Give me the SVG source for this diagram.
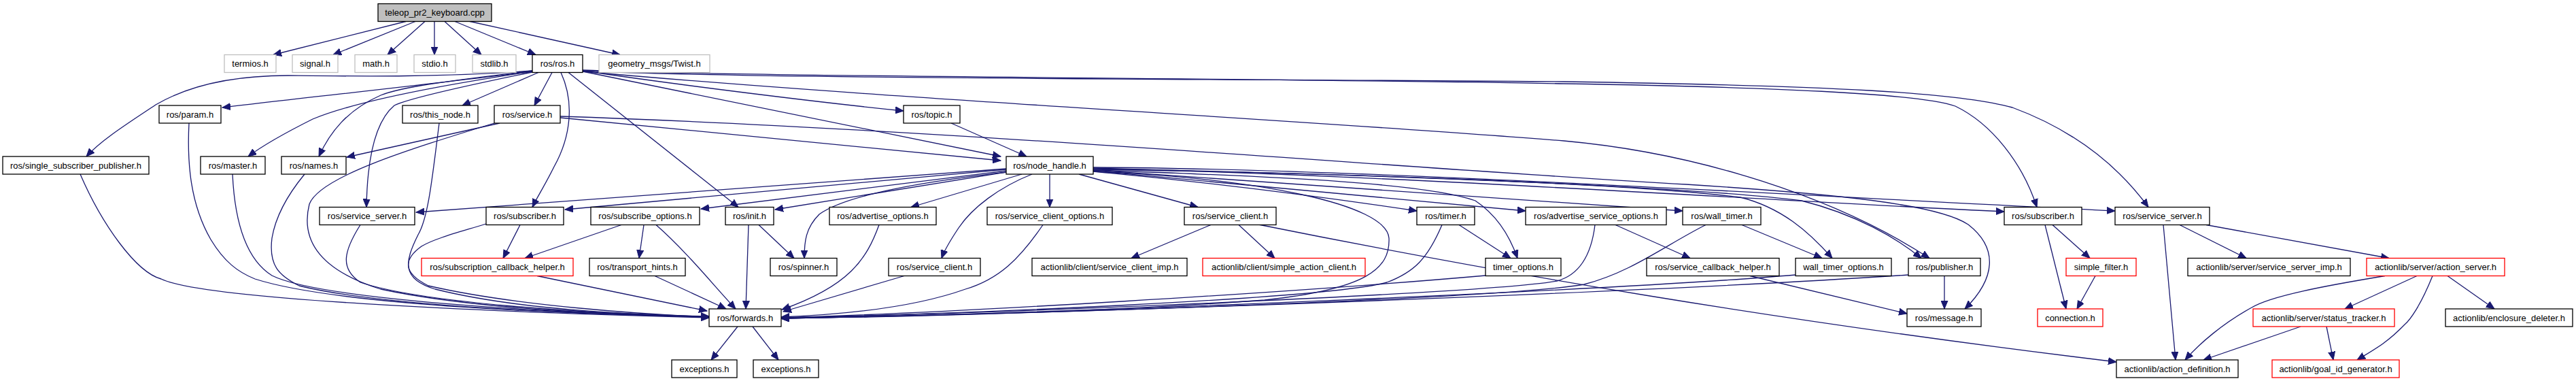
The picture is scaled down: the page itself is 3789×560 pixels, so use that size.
<svg xmlns="http://www.w3.org/2000/svg" width="3789" height="560" viewBox="0 0 3789 560">
<style>
.e{fill:none;stroke:#191970;stroke-width:1.3;marker-end:url(#a)}
.n rect{fill:#fff;stroke:#000;stroke-width:1.3}
.g rect{stroke:#bfbfbf}
.r rect{stroke:#ff0000}
.root rect{fill:#bfbfbf}
text{font-family:"Liberation Sans",Arial,sans-serif;font-size:13px;fill:#000;text-anchor:middle}
</style>
<defs>
<marker id="a" markerUnits="userSpaceOnUse" markerWidth="13" markerHeight="11" refX="12" refY="5.5" orient="auto" viewBox="0 0 13 11">
<path d="M0,0.5 L12,5.5 L0,10.5 z" fill="#191970" stroke="#191970" stroke-width="1"/>
</marker>
</defs>
<rect width="3789" height="560" fill="#fff"/>
<g id="edges">
<path class="e" d="M597,31.5 L402,80.5"/>
<path class="e" d="M611,31.5 L490,80.5"/>
<path class="e" d="M625,31.5 L570,80.5"/>
<path class="e" d="M639,31.5 L639,80.5"/>
<path class="e" d="M654,31.5 L708,80.5"/>
<path class="e" d="M669,31.5 L788,80.5"/>
<path class="e" d="M691,31.5 L912,80.5"/>
<path class="e" d="M783,104 C650,114 520,112 424,111 C330,111 270,130 229,154 C190,180 150,205 127,230"/>
<path class="e" d="M783,105 C650,122 480,140 327,158"/>
<path class="e" d="M783,105 C650,125 520,150 460,175 C420,195 385,215 365,230"/>
<path class="e" d="M783,104 C650,120 590,128 560,140 C510,162 485,195 469,230"/>
<path class="e" d="M783,106 C690,125 600,145 580,155 C550,180 540,240 539,304.5"/>
<path class="e" d="M792,106.5 L680,155"/>
<path class="e" d="M812,106.5 L786,155"/>
<path class="e" d="M825,106.5 C845,150 840,200 815,245 C800,275 790,290 783,304.5"/>
<path class="e" d="M836,106.5 L1086,304.5"/>
<path class="e" d="M857,103 C1100,113 1800,114 2300,123 C2600,128 2820,137 2876,156 C2930,182 2975,240 2996,304.5"/>
<path class="e" d="M857,104 C1100,116 1800,116 2300,120 C2700,126 2880,136 2960,158 C3060,195 3120,250 3160,304.5"/>
<path class="e" d="M857,105 C1300,145 1900,175 2300,207 C2500,225 2700,290 2838,379.5"/>
<path class="e" d="M857,104 C1000,125 1200,150 1329,163"/>
<path class="e" d="M857,105 L1472,230"/>
<path class="e" d="M735,181 L510,231"/>
<path class="e" d="M727,181 C600,220 470,260 455,300 C440,360 480,400 560,425 C700,455 900,462 1043,466"/>
<path class="e" d="M824,173 L1472,236"/>
<path class="e" d="M824,171 C1400,190 2100,250 2480,271 C2700,285 2850,300 2895,330 C2940,365 2935,410 2890,454"/>
<path class="e" d="M1399,181 L1510,230"/>
<path class="e" d="M646,181 C636,260 630,320 615,345 C595,385 590,410 640,425 C760,455 920,462 1043,465"/>
<path class="e" d="M278,181 C275,240 280,300 310,352 C330,385 350,400 375,410 C500,450 850,462 1043,465"/>
<path class="e" d="M342,256 C345,320 360,380 400,405 C470,440 800,460 1043,466"/>
<path class="e" d="M448,256 C420,290 405,320 400,350 C395,390 410,405 440,420 C560,450 850,462 1043,466"/>
<path class="e" d="M118,256 C150,330 200,400 237,410 C300,440 700,458 1043,467"/>
<path class="e" d="M530,330.5 C505,370 500,395 530,415 C620,445 850,460 1043,466"/>
<path class="e" d="M715,329 C680,340 640,350 620,362 C595,380 590,400 630,420 C760,450 950,462 1043,466"/>
<path class="e" d="M765,330.5 L740,379.5"/>
<path class="e" d="M914,330.5 L772,379.5"/>
<path class="e" d="M947,330.5 L940,379.5"/>
<path class="e" d="M965,330.5 C1010,370 1050,420 1082,454"/>
<path class="e" d="M1101,330.5 L1097,454"/>
<path class="e" d="M1116,330.5 L1168,379.5"/>
<path class="e" d="M790,405.5 L1040,457"/>
<path class="e" d="M963,405.5 L1068,454"/>
<path class="e" d="M1480,248 L612,312"/>
<path class="e" d="M1480,249 L831,308"/>
<path class="e" d="M1480,251 L1031,307"/>
<path class="e" d="M1480,253 L1140,308"/>
<path class="e" d="M1481,253 C1330,270 1240,290 1205,315 C1185,335 1183,355 1183,379.5"/>
<path class="e" d="M1503,256 L1340,304.5"/>
<path class="e" d="M1518,256 C1470,275 1430,305 1410,335 C1400,350 1390,365 1385,379.5"/>
<path class="e" d="M1544,256 L1544,304.5"/>
<path class="e" d="M1587,256 L1762,304.5"/>
<path class="e" d="M1608,252 C1850,262 2040,300 2043,350 C2045,395 2010,425 1860,441 C1600,460 1300,466 1149,468"/>
<path class="e" d="M1608,252 C1800,270 1950,290 2084,310"/>
<path class="e" d="M1608,250 C1900,260 2100,270 2170,295 C2200,315 2220,345 2232,379.5"/>
<path class="e" d="M1608,251 L2244,310"/>
<path class="e" d="M1608,250 L2475,310"/>
<path class="e" d="M1608,249 C2000,255 2400,270 2560,290 C2620,305 2660,340 2695,379.5"/>
<path class="e" d="M1608,248 C2000,255 2500,275 2650,295 C2730,315 2790,350 2826,379.5"/>
<path class="e" d="M1608,247 C2100,260 2600,295 2948,311"/>
<path class="e" d="M1608,246 C2000,248 2600,285 3111,310"/>
<path class="e" d="M2121,330.5 C2100,380 2080,400 2040,415 C1950,440 1400,462 1149,467"/>
<path class="e" d="M2146,330.5 L2222,379.5"/>
<path class="e" d="M2185,405 C1900,430 1400,460 1149,467"/>
<path class="e" d="M2346,330.5 C2340,380 2320,405 2290,413 C2200,430 1500,460 1149,467"/>
<path class="e" d="M2376,330.5 L2486,379.5"/>
<path class="e" d="M2509,330.5 C2450,360 2400,400 2330,418 C2200,440 1500,462 1149,468"/>
<path class="e" d="M2562,330.5 L2680,379.5"/>
<path class="e" d="M2641,404 C2400,425 1600,460 1149,468"/>
<path class="e" d="M2807,404 C2500,425 1700,458 1149,468"/>
<path class="e" d="M2574,405.5 L2805,461"/>
<path class="e" d="M2860,405.5 L2860,454"/>
<path class="e" d="M3019,330.5 L3074,379.5"/>
<path class="e" d="M3008,330.5 L3039,454"/>
<path class="e" d="M3082,405.5 L3055,454"/>
<path class="e" d="M3182,330.5 L3200,529"/>
<path class="e" d="M3206,330.5 L3304,379.5"/>
<path class="e" d="M3245,330.5 L3514,379.5"/>
<path class="e" d="M3508,405.5 C3420,420 3340,435 3312,452 C3270,475 3235,505 3214,529"/>
<path class="e" d="M3555,405.5 L3449,454"/>
<path class="e" d="M3578,405.5 C3560,450 3545,470 3537,477 C3510,505 3490,515 3467,529"/>
<path class="e" d="M3600,405.5 L3669,454"/>
<path class="e" d="M3384,480 L3241,529"/>
<path class="e" d="M3422,480 L3432,529"/>
<path class="e" d="M1781,330.5 L1664,379.5"/>
<path class="e" d="M1822,330.5 L1875,379.5"/>
<path class="e" d="M1851,330 C2200,400 2600,470 3113,532"/>
<path class="e" d="M1293,330.5 C1275,380 1250,420 1150,455"/>
<path class="e" d="M1330,405.5 L1152,458"/>
<path class="e" d="M1534,330.5 C1500,380 1470,410 1420,425 C1350,450 1250,462 1149,466"/>
<path class="e" d="M1085,480 L1046,529"/>
<path class="e" d="M1107,480 L1145,529"/>
</g>
<g id="n0" class="n root"><rect x="556" y="5.5" width="167" height="26"/><text x="639.5" y="23">teleop_pr2_keyboard.cpp</text></g>
<g id="n1" class="n g"><rect x="330" y="80.5" width="76" height="26"/><text x="368" y="98">termios.h</text></g>
<g id="n2" class="n g"><rect x="430" y="80.5" width="67" height="26"/><text x="463.5" y="98">signal.h</text></g>
<g id="n3" class="n g"><rect x="522" y="80.5" width="62" height="26"/><text x="553" y="98">math.h</text></g>
<g id="n4" class="n g"><rect x="609" y="80.5" width="61" height="26"/><text x="639.5" y="98">stdio.h</text></g>
<g id="n5" class="n g"><rect x="695" y="80.5" width="64" height="26"/><text x="727" y="98">stdlib.h</text></g>
<g id="n6" class="n"><rect x="783" y="80.5" width="74" height="26"/><text x="820" y="98">ros/ros.h</text></g>
<g id="n7" class="n g"><rect x="881" y="80.5" width="163" height="26"/><text x="962.5" y="98">geometry_msgs/Twist.h</text></g>
<g id="n8" class="n"><rect x="234" y="155" width="91" height="26"/><text x="279.5" y="172.5">ros/param.h</text></g>
<g id="n9" class="n"><rect x="592" y="155" width="111" height="26"/><text x="647.5" y="172.5">ros/this_node.h</text></g>
<g id="n10" class="n"><rect x="727" y="155" width="97" height="26"/><text x="775.5" y="172.5">ros/service.h</text></g>
<g id="n11" class="n"><rect x="1329" y="155" width="83" height="26"/><text x="1370.5" y="172.5">ros/topic.h</text></g>
<g id="n12" class="n"><rect x="4" y="230" width="215" height="26"/><text x="111.5" y="247.5">ros/single_subscriber_publisher.h</text></g>
<g id="n13" class="n"><rect x="295" y="230" width="95" height="26"/><text x="342.5" y="247.5">ros/master.h</text></g>
<g id="n14" class="n"><rect x="414" y="230" width="95" height="26"/><text x="461.5" y="247.5">ros/names.h</text></g>
<g id="n15" class="n"><rect x="1480" y="230" width="128" height="26"/><text x="1544" y="247.5">ros/node_handle.h</text></g>
<g id="n16" class="n"><rect x="470" y="304.5" width="140" height="26"/><text x="540" y="322">ros/service_server.h</text></g>
<g id="n17" class="n"><rect x="715" y="304.5" width="114" height="26"/><text x="772" y="322">ros/subscriber.h</text></g>
<g id="n18" class="n"><rect x="869" y="304.5" width="160" height="26"/><text x="949" y="322">ros/subscribe_options.h</text></g>
<g id="n19" class="n"><rect x="1067" y="304.5" width="71" height="26"/><text x="1102.5" y="322">ros/init.h</text></g>
<g id="n20" class="n"><rect x="1220" y="304.5" width="157" height="26"/><text x="1298.5" y="322">ros/advertise_options.h</text></g>
<g id="n21" class="n"><rect x="1452" y="304.5" width="184" height="26"/><text x="1544" y="322">ros/service_client_options.h</text></g>
<g id="n22" class="n"><rect x="1742" y="304.5" width="135" height="26"/><text x="1809.5" y="322">ros/service_client.h</text></g>
<g id="n23" class="n"><rect x="2084" y="304.5" width="85" height="26"/><text x="2126.5" y="322">ros/timer.h</text></g>
<g id="n24" class="n"><rect x="2244" y="304.5" width="207" height="26"/><text x="2347.5" y="322">ros/advertise_service_options.h</text></g>
<g id="n25" class="n"><rect x="2475" y="304.5" width="115" height="26"/><text x="2532.5" y="322">ros/wall_timer.h</text></g>
<g id="n26" class="n"><rect x="2948" y="304.5" width="114" height="26"/><text x="3005" y="322">ros/subscriber.h</text></g>
<g id="n27" class="n"><rect x="3111" y="304.5" width="139" height="26"/><text x="3180.5" y="322">ros/service_server.h</text></g>
<g id="n28" class="n r"><rect x="620" y="379.5" width="223" height="26"/><text x="731.5" y="397">ros/subscription_callback_helper.h</text></g>
<g id="n29" class="n"><rect x="867" y="379.5" width="141" height="26"/><text x="937.5" y="397">ros/transport_hints.h</text></g>
<g id="n30" class="n"><rect x="1133" y="379.5" width="98" height="26"/><text x="1182" y="397">ros/spinner.h</text></g>
<g id="n31" class="n"><rect x="1307" y="379.5" width="135" height="26"/><text x="1374.5" y="397">ros/service_client.h</text></g>
<g id="n32" class="n"><rect x="1518" y="379.5" width="228" height="26"/><text x="1632" y="397">actionlib/client/service_client_imp.h</text></g>
<g id="n33" class="n r"><rect x="1769" y="379.5" width="239" height="26"/><text x="1888.5" y="397">actionlib/client/simple_action_client.h</text></g>
<g id="n34" class="n"><rect x="2185" y="379.5" width="111" height="26"/><text x="2240.5" y="397">timer_options.h</text></g>
<g id="n35" class="n"><rect x="2422" y="379.5" width="195" height="26"/><text x="2519.5" y="397">ros/service_callback_helper.h</text></g>
<g id="n36" class="n"><rect x="2641" y="379.5" width="141" height="26"/><text x="2711.5" y="397">wall_timer_options.h</text></g>
<g id="n37" class="n"><rect x="2807" y="379.5" width="106" height="26"/><text x="2860" y="397">ros/publisher.h</text></g>
<g id="n38" class="n r"><rect x="3039" y="379.5" width="103" height="26"/><text x="3090.5" y="397">simple_filter.h</text></g>
<g id="n39" class="n"><rect x="3218" y="379.5" width="239" height="26"/><text x="3337.5" y="397">actionlib/server/service_server_imp.h</text></g>
<g id="n40" class="n r"><rect x="3481" y="379.5" width="203" height="26"/><text x="3582.5" y="397">actionlib/server/action_server.h</text></g>
<g id="n41" class="n"><rect x="1043" y="454" width="106" height="26"/><text x="1096" y="471.5">ros/forwards.h</text></g>
<g id="n42" class="n"><rect x="2805" y="454" width="109" height="26"/><text x="2859.5" y="471.5">ros/message.h</text></g>
<g id="n43" class="n r"><rect x="2997" y="454" width="96" height="26"/><text x="3045" y="471.5">connection.h</text></g>
<g id="n44" class="n r"><rect x="3314" y="454" width="208" height="26"/><text x="3418" y="471.5">actionlib/server/status_tracker.h</text></g>
<g id="n45" class="n"><rect x="3597" y="454" width="187" height="26"/><text x="3690.5" y="471.5">actionlib/enclosure_deleter.h</text></g>
<g id="n46" class="n"><rect x="988" y="529" width="96" height="26"/><text x="1036" y="546.5">exceptions.h</text></g>
<g id="n47" class="n"><rect x="1108" y="529" width="96" height="26"/><text x="1156" y="546.5">exceptions.h</text></g>
<g id="n48" class="n"><rect x="3113" y="529" width="179" height="26"/><text x="3202.5" y="546.5">actionlib/action_definition.h</text></g>
<g id="n49" class="n r"><rect x="3342" y="529" width="187" height="26"/><text x="3435.5" y="546.5">actionlib/goal_id_generator.h</text></g>
</svg>
